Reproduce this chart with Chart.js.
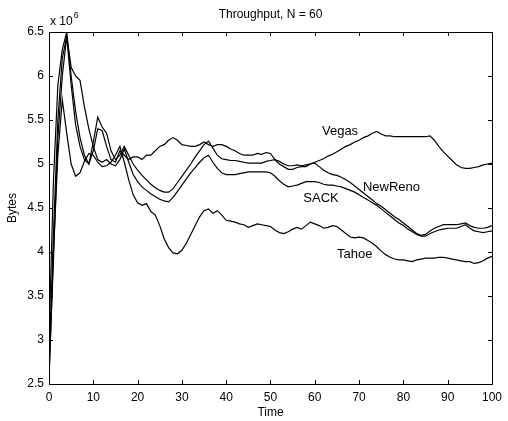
<!DOCTYPE html>
<html>
<head>
<meta charset="utf-8">
<script src="https://cdn.jsdelivr.net/npm/chart.js@4/dist/chart.umd.min.js"></script>
<style>
  html, body { margin: 0; padding: 0; background: #fff; }
  #wrap { width: 508px; height: 421px; }
</style>
</head>
<body>
<div id="wrap"><canvas id="throughput-chart" width="508" height="421"></canvas></div>
<script>
// time axis 0..100
const times = [];
for (let t = 0; t <= 100; t++) times.push(t);

const yTicks = [2.5, 3, 3.5, 4, 4.5, 5, 5.5, 6, 6.5];
const xTicks = [0, 10, 20, 30, 40, 50, 60, 70, 80, 90, 100];

// Bytes (x 10^6), one value per time unit
const vegas = [
  2.6, 3.9, 5.3, 6.0, 6.45, 5.9, 5.45, 5.2, 5.05, 5.0,
  5.15, 5.4, 5.38, 5.2, 5.05, 5.02, 5.15, 5.1, 5.05, 5.08,
  5.08, 5.05, 5.1, 5.1, 5.15, 5.2, 5.22, 5.27, 5.3, 5.27,
  5.22, 5.21, 5.2, 5.2, 5.22, 5.25, 5.22, 5.2, 5.22, 5.22,
  5.2, 5.17, 5.15, 5.12, 5.1, 5.1, 5.1, 5.12, 5.11, 5.13,
  5.12, 5.05, 5.0, 4.97, 4.94, 4.94, 4.96, 4.97, 4.97, 5.0,
  5.02, 5.04, 5.06, 5.09, 5.11, 5.14, 5.17, 5.2, 5.22, 5.25,
  5.27, 5.3, 5.32, 5.35, 5.37, 5.34, 5.32, 5.32, 5.31, 5.31,
  5.31, 5.31, 5.31, 5.31, 5.31, 5.31, 5.32, 5.27, 5.2, 5.14,
  5.09, 5.04, 4.99, 4.96, 4.95, 4.95, 4.96, 4.97, 4.99, 5.0,
  5.01
];
const newReno = [
  3.0, 4.8, 5.9, 6.3, 6.5, 6.0, 5.6, 5.3, 5.1, 5.0,
  5.25, 5.53, 5.42, 5.35, 5.15, 5.05, 5.1, 5.2, 5.1, 5.0,
  4.93, 4.87, 4.82, 4.77, 4.73, 4.7, 4.68, 4.68, 4.72, 4.79,
  4.86, 4.93, 5.0, 5.08, 5.15, 5.22, 5.26, 5.18, 5.1, 5.06,
  5.05, 5.04, 5.04, 5.03, 5.02, 5.01, 5.01, 5.01, 5.01, 5.03,
  5.04, 5.05, 5.03, 5.0, 4.98, 4.98, 4.99, 4.98, 4.99, 5.0,
  5.01, 4.97, 4.93, 4.9, 4.88, 4.87, 4.85, 4.82, 4.79, 4.75,
  4.71, 4.67, 4.63, 4.59, 4.55, 4.52, 4.48, 4.44, 4.4, 4.37,
  4.33, 4.29, 4.25, 4.21, 4.19, 4.2, 4.24, 4.27, 4.29, 4.31,
  4.31, 4.31, 4.31, 4.32, 4.33, 4.3, 4.28, 4.27, 4.27, 4.28,
  4.3
];
const sack = [
  2.7, 4.2, 5.5, 6.2, 6.45, 6.1, 6.0, 5.95, 5.65, 5.4,
  5.2, 5.05, 5.02, 5.05, 5.0, 4.98, 5.05, 5.17, 5.02, 4.88,
  4.8, 4.74, 4.7, 4.66, 4.63, 4.6, 4.58, 4.57, 4.62, 4.69,
  4.76, 4.83, 4.9, 4.96, 5.02, 5.07, 5.1, 5.02, 4.95, 4.9,
  4.88, 4.88, 4.88, 4.89, 4.9, 4.91, 4.91, 4.91, 4.91, 4.91,
  4.9, 4.86, 4.81, 4.77, 4.74, 4.75, 4.76, 4.78, 4.8, 4.8,
  4.8, 4.79, 4.77, 4.76, 4.76, 4.75, 4.74, 4.72, 4.7, 4.68,
  4.65, 4.62, 4.59, 4.56, 4.53, 4.49, 4.45, 4.41, 4.37, 4.33,
  4.3, 4.26, 4.23, 4.2, 4.18, 4.18, 4.21, 4.23, 4.25, 4.26,
  4.27, 4.27, 4.27, 4.29, 4.31, 4.27, 4.24, 4.23, 4.22, 4.23,
  4.24
];
const tahoe = [
  2.55, 4.0, 5.1, 5.73, 5.35, 5.0, 4.86, 4.9, 5.03, 5.12,
  5.1, 5.02, 4.97, 4.98, 5.02, 5.1, 5.2, 5.02, 4.82, 4.65,
  4.56, 4.53, 4.55, 4.46, 4.42, 4.3, 4.15, 4.05, 3.99, 3.98,
  4.02, 4.1, 4.2, 4.3, 4.4, 4.47, 4.49, 4.44, 4.47, 4.42,
  4.36, 4.35, 4.34, 4.32, 4.31, 4.28, 4.3, 4.32, 4.31, 4.3,
  4.29, 4.25, 4.22, 4.21, 4.23, 4.26, 4.28, 4.26, 4.3, 4.34,
  4.32, 4.3, 4.27, 4.28, 4.3, 4.29, 4.25, 4.21, 4.17, 4.16,
  4.17, 4.16, 4.13, 4.1, 4.06, 4.01, 3.97, 3.94, 3.92, 3.91,
  3.91, 3.9, 3.89, 3.91, 3.92, 3.93, 3.93, 3.93, 3.94, 3.94,
  3.93, 3.92, 3.91, 3.9, 3.89, 3.89, 3.87, 3.88, 3.9, 3.93,
  3.95
];

const seriesNames = ["Vegas", "NewReno", "SACK", "Tahoe"];
const seriesValues = [vegas, newReno, sack, tahoe];

// where the curve names sit, in data units (time, bytes)
const nameSpots = [[65.7, 5.37], [77.3, 4.73], [61.4, 4.61], [69, 3.97]];

const FONT = "'Liberation Sans', Arial, sans-serif";

function toPoints(values) {
  return times.map((t, i) => ({ x: t, y: values[i] }));
}

// MATLAB style box, inward ticks, title, curve names and the x 10^6 factor
const boxPlugin = {
  id: "matlabBox",
  afterDatasetsDraw(chart) {
    const ctx = chart.ctx;
    const a = chart.chartArea;
    const xs = chart.scales.x;
    const ys = chart.scales.y;
    ctx.save();
    ctx.strokeStyle = "#000";
    ctx.lineWidth = 1;
    ctx.strokeRect(Math.round(a.left) + 0.5, Math.round(a.top) + 0.5,
      Math.round(a.right - a.left), Math.round(a.bottom - a.top));
    ctx.beginPath();
    xTicks.forEach(v => {
      const px = Math.round(xs.getPixelForValue(v)) + 0.5;
      ctx.moveTo(px, a.bottom); ctx.lineTo(px, a.bottom - 4);
      ctx.moveTo(px, a.top); ctx.lineTo(px, a.top + 4);
    });
    yTicks.forEach(v => {
      const py = Math.round(ys.getPixelForValue(v)) + 0.5;
      ctx.moveTo(a.left, py); ctx.lineTo(a.left + 4, py);
      ctx.moveTo(a.right, py); ctx.lineTo(a.right - 4, py);
    });
    ctx.stroke();

    ctx.fillStyle = "#000";
    ctx.textAlign = "center";
    ctx.textBaseline = "middle";
    ctx.font = "12px " + FONT;
    ctx.fillText("Throughput, N = 60", (a.left + a.right) / 2, 15);

    ctx.font = "13px " + FONT;
    seriesNames.forEach((name, i) => {
      ctx.fillText(name, xs.getPixelForValue(nameSpots[i][0]), ys.getPixelForValue(nameSpots[i][1]));
    });

    ctx.textAlign = "left";
    ctx.textBaseline = "alphabetic";
    ctx.font = "12px " + FONT;
    ctx.fillText("x 10", a.left + 1, a.top - 7);
    const w = ctx.measureText("x 10").width;
    ctx.font = "9px " + FONT;
    ctx.fillText("6", a.left + 1 + w + 1, a.top - 14);
    ctx.restore();
  }
};

new Chart("throughput-chart", {
  type: "line",
  data: {
    datasets: seriesValues.map((vals, i) => ({
      label: seriesNames[i],
      data: toPoints(vals),
      borderColor: "#000",
      borderWidth: 1.2,
      pointRadius: 0,
      tension: 0,
      fill: false
    }))
  },
  options: {
    responsive: false,
    animation: false,
    layout: { padding: { left: 0, right: 11, top: 32, bottom: 0 } },
    plugins: {
      legend: { display: false },
      tooltip: { enabled: false },
      title: { display: false }
    },
    scales: {
      x: {
        type: "linear",
        min: 0,
        max: 100,
        afterFit: s => { s.height = 37; },
        afterBuildTicks: s => { s.ticks = xTicks.map(v => ({ value: v })); },
        grid: { display: false, drawTicks: false },
        border: { display: false },
        ticks: { color: "#000", font: { family: FONT, size: 12 }, padding: 6, maxRotation: 0 },
        title: { display: true, text: "Time", color: "#000", font: { family: FONT, size: 12 }, padding: { top: 0, bottom: 1 } }
      },
      y: {
        type: "linear",
        min: 2.5,
        max: 6.5,
        afterFit: s => { s.width = 49; },
        afterBuildTicks: s => { s.ticks = yTicks.map(v => ({ value: v })); },
        grid: { display: false, drawTicks: false },
        border: { display: false },
        ticks: { color: "#000", font: { family: FONT, size: 12 }, padding: 5, callback: v => String(v) },
        title: { display: true, text: "Bytes", color: "#000", font: { family: FONT, size: 12 }, padding: { top: 5, bottom: 0 } }
      }
    }
  },
  plugins: [boxPlugin]
});
</script>
</body>
</html>
